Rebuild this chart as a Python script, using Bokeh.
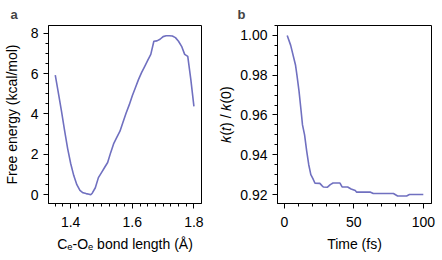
import numpy as np
from bokeh.plotting import figure
from bokeh.layouts import row
from bokeh.models import FixedTicker, NumeralTickFormatter, Title
from bokeh.embed import file_html
from bokeh.resources import INLINE

# Panel a: free energy vs bond length
bond_length = [1.35, 1.36, 1.37, 1.38, 1.39, 1.40, 1.41, 1.42, 1.43, 1.44, 1.45, 1.46, 1.465,
               1.47, 1.48, 1.49, 1.50, 1.51, 1.52, 1.53, 1.54, 1.55, 1.56, 1.57, 1.58, 1.59,
               1.60, 1.61, 1.62, 1.63, 1.64, 1.65, 1.66, 1.67, 1.68, 1.69, 1.70, 1.71, 1.72,
               1.73, 1.74, 1.75, 1.76, 1.77, 1.78, 1.79, 1.80]
free_energy = [5.92, 5.05, 4.15, 3.2, 2.3, 1.55, 0.95, 0.5, 0.22, 0.1, 0.06, 0.03, 0.0,
               0.08, 0.35, 0.85, 1.1, 1.35, 1.6, 2.1, 2.55, 2.85, 3.15, 3.6, 4.05, 4.45,
               4.9, 5.3, 5.7, 6.05, 6.35, 6.65, 6.95, 7.6, 7.62, 7.7, 7.83, 7.87, 7.87,
               7.86, 7.78, 7.6, 7.35, 6.95, 6.85, 5.7, 4.38]

# Panel b: k(t)/k(0) vs time
time_fs = [2, 4.5, 8, 9, 10.5, 12, 13, 14.5, 16, 17.5, 19, 20.5, 22, 25.5, 27, 28, 31, 33,
           35, 40, 41.5, 45.5, 48, 51, 52, 62, 64, 78.5, 81.5, 88, 90, 100]
k_ratio = [1.000, 0.995, 0.985, 0.980, 0.972, 0.962, 0.955, 0.950, 0.942, 0.935, 0.930,
           0.928, 0.9257, 0.9256, 0.9245, 0.9238, 0.9237, 0.9250, 0.9258, 0.9258, 0.9238,
           0.9238, 0.9228, 0.9220, 0.9212, 0.9212, 0.9205, 0.9205, 0.9193, 0.9193, 0.9200,
           0.9200]

a_xticks = [1.4, 1.6, 1.8]
a_yticks = [0, 2, 4, 6, 8]
b_xticks = [0, 50, 100]
b_yticks = [0.92, 0.94, 0.96, 0.98, 1.00]

LINE = "#7070c0"
FONT = "Liberation Sans"


def style(p, ylabel_standoff):
    p.outline_line_color = "black"
    p.outline_line_width = 1
    p.outline_line_alpha = 1
    p.xgrid.visible = False
    p.ygrid.visible = False
    for ax in (p.xaxis[0], p.yaxis[0]):
        ax.axis_line_color = "black"
        ax.major_tick_in = 0
        ax.major_tick_out = 5
        ax.minor_tick_in = 0
        ax.minor_tick_out = 3
        ax.major_tick_line_color = "black"
        ax.minor_tick_line_color = "black"
        ax.major_label_text_font = FONT
        ax.major_label_text_font_size = "14px"
        ax.major_label_text_color = "black"
        ax.axis_label_text_font = FONT
        ax.axis_label_text_font_size = "14px"
        ax.axis_label_text_font_style = "normal"
        ax.axis_label_text_color = "black"
    p.xaxis[0].major_label_standoff = 8
    p.xaxis[0].axis_label_standoff = 6
    p.yaxis[0].major_label_standoff = 5
    p.yaxis[0].axis_label_standoff = ylabel_standoff


pa = figure(width=215, height=260, output_backend="svg", toolbar_location=None,
            x_range=(1.328, 1.8246), y_range=(-0.43, 8.38),
            min_border_left=46, min_border_right=14, min_border_top=24, min_border_bottom=57)
pa.line(bond_length, free_energy, line_color=LINE, line_width=1.6)
style(pa, 8)
pa.xaxis.ticker = FixedTicker(ticks=a_xticks, minor_ticks=list(np.round(np.arange(1.35, 1.826, 0.025), 3)))
pa.yaxis.ticker = FixedTicker(ticks=a_yticks, minor_ticks=list(np.arange(0, 8.01, 0.5)))
pa.xaxis.formatter = NumeralTickFormatter(format="0.0")
pa.yaxis.formatter = NumeralTickFormatter(format="0")
pa.xaxis.axis_label = "C\u2091-O\u2091 bond length (\u00c5)"
pa.yaxis.axis_label = "Free energy (kcal/mol)"
pa.add_layout(Title(text="a", text_font=FONT, text_font_size="13px", text_font_style="bold",
                    align="left", offset=-38, standoff=8), "above")

pb = figure(width=227, height=260, output_backend="svg", toolbar_location=None,
            x_range=(-5.0, 105.9), y_range=(0.9155, 1.005),
            min_border_left=60, min_border_right=11, min_border_top=24, min_border_bottom=57)
pb.line(time_fs, k_ratio, line_color=LINE, line_width=1.6)
style(pb, 3)
pb.xaxis.ticker = FixedTicker(ticks=b_xticks, minor_ticks=list(np.arange(0, 101, 10)))
pb.yaxis.ticker = FixedTicker(ticks=b_yticks, minor_ticks=list(np.round(np.arange(0.915, 1.0051, 0.005), 4)))
pb.xaxis.formatter = NumeralTickFormatter(format="0")
pb.yaxis.formatter = NumeralTickFormatter(format="0.00")
pb.xaxis.axis_label = "Time (fs)"
pb.yaxis.axis_label = "\U0001d458(\U0001d461) / \U0001d458(0)"
pb.add_layout(Title(text="b", text_font=FONT, text_font_size="13px", text_font_style="bold",
                    align="left", offset=-40, standoff=8), "above")

layout = row(pa, pb)
open("out.html", "w").write(file_html(layout, INLINE))
